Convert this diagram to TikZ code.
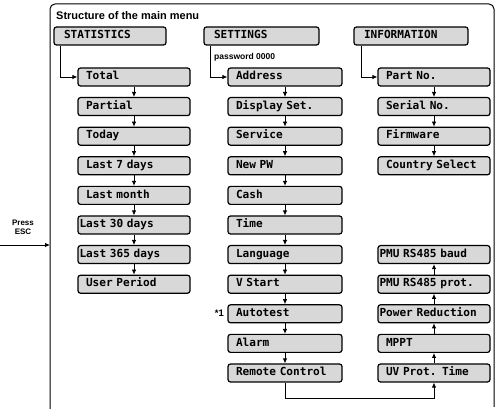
\documentclass[tikz,border=0pt]{standalone}
\usepackage{fontspec}
\setmainfont{Liberation Sans}
\newfontfamily\lcd{DejaVu Sans Mono}
\usetikzlibrary{arrows.meta,calc}
\definecolor{boxgray}{RGB}{216,216,216}
\begin{document}
\begin{tikzpicture}[x=1pt,y=-1pt,
  item/.style={draw=black,line width=1.2pt,fill=boxgray,rounded corners=2.5pt,
    minimum height=18pt,inner ysep=0pt,inner xsep=8pt,text width=96pt,align=left,
    font=\lcd\bfseries\fontsize{11.1}{12}\selectfont,text height=7.8pt,text depth=2.2pt},
  itemw/.style={item,inner xsep=1.5pt,text width=109pt},
  sitem/.style={item,text width=98pt},
  head/.style={item,inner xsep=10pt,text width=#1},
  arr/.style={line width=0.8pt,-{Latex[length=5pt,width=4.5pt]}},
  lbl/.style={font=\bfseries\fontsize{#1}{#1}\selectfont,inner sep=0pt}
]
\useasboundingbox (0,0) rectangle (499,409);
% frame
\draw[line width=1pt,rounded corners=5pt] (50,409) -- (50,4) -- (494,4) -- (494,407);
\node[lbl=11,anchor=west] (title) at (56,16) {Structure of the main menu};

% headers
\node[head=92pt] (stat) at (110,36) {STATISTICS};
\node[head=95pt] (sett) at (261.5,36) {SETTINGS};
\node[head=94pt] (info) at (411,36) {INFORMATION};

% statistics column
\node[item]  (total)   at (134,77)    {Total};
\node[item]  (partial) at (134,106.6) {Partial};
\node[item]  (today)   at (134,136.2) {Today};
\node[item]  (l7)      at (134,165.8) {Last 7 days};
\node[item]  (lmonth)  at (134,195.4) {Last month};
\node[itemw] (l30)     at (134,225)   {Last 30 days};
\node[itemw] (l365)    at (134,254.6) {Last 365 days};
\node[item]  (user)    at (134,284.2) {User Period};

% settings column
\node[sitem] (addr)    at (285,77)    {Address};
\node[sitem] (disp)    at (285,106.6) {Display Set.};
\node[sitem] (serv)    at (285,136.2) {Service};
\node[sitem] (newpw)   at (285,165.8) {New PW};
\node[sitem] (cash)    at (285,195.4) {Cash};
\node[sitem] (time)    at (285,225)   {Time};
\node[sitem] (lang)    at (285,254.6) {Language};
\node[sitem] (vstart)  at (285,284.2) {V Start};
\node[sitem] (auto)    at (285,313.8) {Autotest};
\node[sitem] (alarm)   at (285,343.4) {Alarm};
\node[sitem] (remote)  at (285,373)   {Remote Control};

% information column
\node[item]  (part)    at (434,77)    {Part No.};
\node[item]  (serial)  at (434,106.6) {Serial No.};
\node[item]  (firm)    at (434,136.2) {Firmware};
\node[item]  (country) at (434,165.8) {Country Select};
\node[itemw] (baud)    at (434,254.6) {PMU RS485 baud};
\node[itemw] (prot)    at (434,284.2) {PMU RS485 prot.};
\node[itemw] (power)   at (434,313.8) {Power Reduction};
\node[item]  (mppt)    at (434,343.4) {MPPT};
\node[item]  (uv)      at (434,373)   {UV Prot. Time};

% labels
\node[lbl=8.5,anchor=west] (pw) at (214,57) {password 0000};
\node[lbl=9.5,anchor=east] (star) at (224,313.5) {*1};
\node[lbl=8,align=center] (esc) at (23,227) {Press\\[1pt]ESC};
\coordinate (escstart) at (0,245);
\coordinate (escend) at (50,245);
\draw[arr] (escstart) -- (escend);

% header connectors
\draw[arr] ($(stat.south west)+(7,0)$) |- (total.west);
\draw[arr] ($(sett.south west)+(7,0)$) |- (addr.west);
\draw[arr] ($(info.south west)+(8,0)$) |- (part.west);

% column arrows
\draw[arr] (total) -- (partial);
\draw[arr] (partial) -- (today);
\draw[arr] (today) -- (l7);
\draw[arr] (l7) -- (lmonth);
\draw[arr] (lmonth) -- (l30);
\draw[arr] (l30) -- (l365);
\draw[arr] (l365) -- (user);

\draw[arr] (addr) -- (disp);
\draw[arr] (disp) -- (serv);
\draw[arr] (serv) -- (newpw);
\draw[arr] (newpw) -- (cash);
\draw[arr] (cash) -- (time);
\draw[arr] (time) -- (lang);
\draw[arr] (lang) -- (vstart);
\draw[arr] (vstart) -- (auto);
\draw[arr] (auto) -- (alarm);
\draw[arr] (alarm) -- (remote);

\draw[arr] (part) -- (serial);
\draw[arr] (serial) -- (firm);
\draw[arr] (firm) -- (country);

\draw[arr] (uv) -- (mppt);
\draw[arr] (mppt) -- (power);
\draw[arr] (power) -- (prot);
\draw[arr] (prot) -- (baud);

\draw[arr] (remote.south) -- ++(0,16) -| (uv.south);
\end{tikzpicture}
\end{document}
